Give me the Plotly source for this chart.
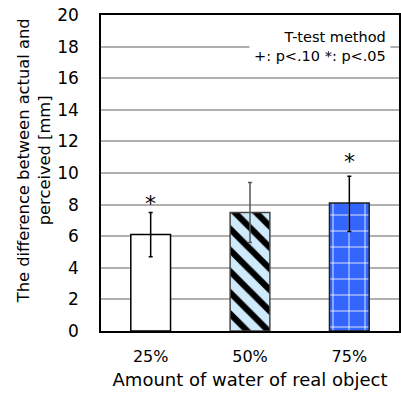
import plotly.graph_objects as go

categories = ["25%", "50%", "75%"]
values = [6.1, 7.5, 8.1]
err_plus = [1.4, 1.9, 1.7]
err_minus = [1.4, 1.9, 1.8]
marks = ["*", "", "*"]
mark_y = [8.1, None, 10.7]

font = "DejaVu Sans"
fig = go.Figure()

styles = [
    dict(color="white", pattern=None, line="black", err="black"),
    dict(color="#cfeafb", pattern=dict(shape="\\", fgcolor="black", fgopacity=1, bgcolor="#cfeafb", size=15, solidity=0.42), line="#444444", err="#555555"),
    dict(color="#3366ff", pattern=dict(shape="+", fgcolor="white", fgopacity=1, bgcolor="#3366ff", size=16, solidity=0.1), line="#222222", err="black"),
]

for i, c in enumerate(categories):
    s = styles[i]
    marker = dict(color=s["color"], line=dict(color=s["line"], width=1.5))
    if s["pattern"]:
        marker["pattern"] = s["pattern"]
    fig.add_trace(go.Bar(
        x=[c], y=[values[i]], width=0.4, marker=marker,
        error_y=dict(type="data", symmetric=False, array=[err_plus[i]], arrayminus=[err_minus[i]],
                     color=s["err"], thickness=1.5, width=2),
        showlegend=False,
    ))

for i, c in enumerate(categories):
    if marks[i]:
        fig.add_annotation(x=c, y=mark_y[i], text=marks[i], showarrow=False,
                           font=dict(size=22, color="black", family=font))

fig.add_annotation(x=0.735, y=0.9, xref="paper", yref="paper",
                   text="T-test method<br>+: p<.10 *: p<.05", showarrow=False,
                   align="right", bgcolor="white", xanchor="center", yanchor="middle",
                   font=dict(size=14.5, color="black", family=font), borderpad=4)

# y-axis title as rotated annotation (centered like the reference)
fig.add_annotation(x=-0.225, y=0.54, xref="paper", yref="paper",
                   text="The difference between actual and<br>perceived [mm]", showarrow=False,
                   textangle=-90, xanchor="center", yanchor="middle", align="center",
                   font=dict(size=16.3, color="black", family=font))

fig.update_layout(
    width=401, height=394,
    margin=dict(l=101, r=0, t=15, b=63),
    plot_bgcolor="white", paper_bgcolor="white",
    font=dict(family=font, color="black", size=16),
    xaxis=dict(range=[-0.5, 2.5], showline=True, linecolor="black", linewidth=1.5, mirror=True,
               ticks="", tickfont=dict(size=16), ticklabelstandoff=10,
               title=dict(text="Amount of water of real object", font=dict(size=18), standoff=8)),
    yaxis=dict(range=[0, 20], dtick=2, showline=True, linecolor="black", linewidth=1.5, mirror=True,
               showgrid=True, gridcolor="#b0b0b0", gridwidth=1.5, zeroline=False,
               ticks="", tickfont=dict(size=17), ticklabelstandoff=17),
)

fig.write_html("out.html")
